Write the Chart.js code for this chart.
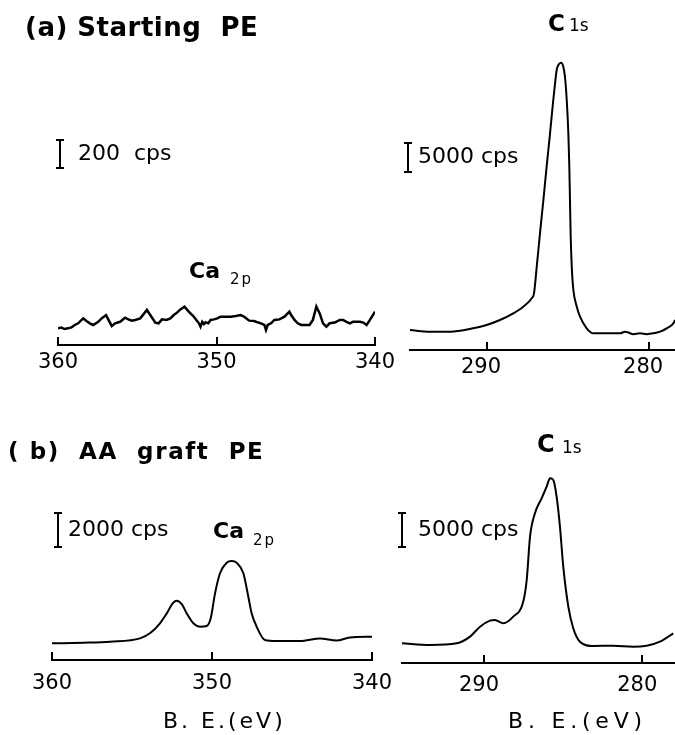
<!DOCTYPE html>
<html>
<head>
<meta charset="utf-8">
<script src="https://cdn.jsdelivr.net/npm/chart.js@4.4.0/dist/chart.umd.min.js"></script>
<style>
  body { margin: 0; background: #fff; }
  #wrap { position: relative; width: 675px; height: 735px; overflow: hidden; font-family: "DejaVu Sans", sans-serif; color: #000; }
  #wrap canvas { position: absolute; left: 0; top: 0; }
  .lbl { position: absolute; white-space: pre; line-height: 1; }
</style>
</head>
<body>
<div id="wrap">
  <canvas id="caA" width="675" height="735"></canvas>
  <canvas id="c1sA" width="675" height="735"></canvas>
  <canvas id="caB" width="675" height="735"></canvas>
  <canvas id="c1sB" width="675" height="735"></canvas>

  <div class="lbl" style="left:25px;top:14px;font-size:26px;font-weight:bold;letter-spacing:0.5px">(a) Starting  PE</div>
  <div class="lbl" style="left:8px;top:440px;font-size:23px;font-weight:bold;letter-spacing:1.6px">( b)  AA  graft  PE</div>

  <div class="lbl" style="left:189px;top:260px;font-size:22px;font-weight:bold">Ca</div>
  <div class="lbl" style="left:230px;top:272px;font-size:15px;letter-spacing:2px">2p</div>
  <div class="lbl" style="left:548px;top:12px;font-size:23px;font-weight:bold">C</div>
  <div class="lbl" style="left:569px;top:17px;font-size:17px">1s</div>

  <div class="lbl" style="left:213px;top:520px;font-size:22px;font-weight:bold">Ca</div>
  <div class="lbl" style="left:253px;top:533px;font-size:15px;letter-spacing:2px">2p</div>
  <div class="lbl" style="left:537px;top:432px;font-size:24px;font-weight:bold">C</div>
  <div class="lbl" style="left:562px;top:439px;font-size:17px">1s</div>

  <div class="lbl" style="left:163px;top:710px;font-size:22px;letter-spacing:3px">B. E.(eV)</div>
  <div class="lbl" style="left:508px;top:710px;font-size:22px;letter-spacing:4.8px">B. E.(eV)</div>
</div>

<script>
// tick labels (eV)
const caTicks = [360, 350, 340];
const c1sTicks = [290, 280];

// (a) starting PE - Ca 2p (noise only)
const caA_be = [360.00,359.79,359.58,359.37,359.15,358.94,358.73,358.41,358.20,357.99,
  357.78,357.46,357.25,356.97,356.83,356.61,356.40,356.08,355.77,355.56,
  355.34,355.13,354.81,354.39,354.18,353.86,353.65,353.44,353.16,352.91,
  352.70,352.49,352.28,352.02,351.75,351.43,351.11,351.01,350.90,350.79,
  350.69,350.52,350.37,350.16,349.95,349.74,349.42,349.10,348.78,348.47,
  348.25,347.94,347.62,347.41,347.20,346.98,346.88,346.77,346.56,346.35,
  346.03,345.71,345.40,345.29,345.08,344.87,344.66,344.34,344.13,343.92,
  343.70,343.49,343.28,343.07,342.86,342.54,342.22,342.01,341.80,341.59,
  341.38,341.16,340.95,340.74,340.53,340.32,340.00];
const caA_cps = [119,124,114,119,126,143,155,190,171,155,
  143,166,190,214,183,136,155,166,195,183,
  174,179,190,250,214,160,155,183,179,190,
  214,231,254,274,238,202,155,131,166,150,
  162,155,179,183,190,202,202,202,207,214,
  202,174,171,162,155,143,107,143,155,179,
  183,202,238,214,179,155,143,143,143,179,
  274,226,155,131,155,160,179,179,166,155,
  166,166,166,160,143,179,238];

// (a) starting PE - C 1s
const c1sA_be = [294.75,293.52,292.28,290.85,290.02,289.20,288.38,287.76,287.24,287.10,
  286.93,286.73,286.52,286.32,286.11,285.91,285.80,285.70,285.60,285.43,
  285.29,285.19,285.08,284.98,284.92,284.88,284.84,284.77,284.67,284.46,
  284.26,283.85,283.44,282.61,281.79,281.48,281.28,280.97,280.56,280.14,
  279.73,279.32,278.91,278.50,278.40];
const c1sA_cps = [3450,3160,3160,3740,4310,5170,6320,7470,8910,9770,
  14370,20120,25860,31600,37360,43100,45980,48270,49130,49530,
  48840,47120,43100,37360,31600,25860,20120,14370,10340,7470,
  5750,3740,2870,2870,2870,3160,3020,2730,2870,2730,
  2870,3160,3740,4600,5170];

// (b) AA graft PE - Ca 2p
const caB_be = [360.00,358.04,356.38,354.50,353.88,353.25,352.83,352.42,352.21,351.89,
  351.58,351.17,350.75,350.33,350.08,349.81,349.50,349.08,348.77,348.46,
  348.04,347.73,347.52,347.21,346.69,345.96,344.50,343.25,342.21,341.38,340.00];
const caB_cps = [980,1020,1080,1270,1570,2160,2740,3370,3490,3290,
  2740,2160,1960,2000,2450,3920,5100,5720,5820,5720,
  5100,3720,2740,1960,1180,1120,1120,1270,1140,1330,1370];

// (b) AA graft PE - C 1s
const c1sB_be = [295.18,293.41,291.72,290.88,290.25,289.62,289.31,288.78,288.15,287.52,
  287.30,287.09,286.78,286.36,286.04,285.83,285.62,285.41,285.20,284.99,
  284.67,284.36,283.94,283.10,281.83,280.57,279.72,278.88,278.04];
const c1sB_cps = [2890,2650,2890,3870,5340,6220,6320,5830,6810,9010,
  12200,18570,22010,24210,25920,27150,26900,24450,20040,14160,
  8280,5100,3130,2500,2540,2400,2540,3130,4360];

Chart.defaults.font.family = '"DejaVu Sans", sans-serif';
Chart.defaults.color = '#000';

// ticks pointing up from the axis + the "I xxx cps" scale bar
const scaleBar = {
  id: 'scaleBar',
  afterDatasetsDraw(chart, args, opts) {
    const ctx = chart.ctx;
    const xs = chart.scales.x, ys = chart.scales.y;
    const b = chart.chartArea.bottom;
    ctx.save();
    ctx.strokeStyle = '#000';
    ctx.lineWidth = 2;
    xs.ticks.forEach(t => {
      const px = Math.round(xs.getPixelForValue(t.value));
      ctx.beginPath();
      ctx.moveTo(px, b);
      ctx.lineTo(px, b - 8);
      ctx.stroke();
    });
    // bar length from the y scale
    const len = ys.getPixelForValue(0) - ys.getPixelForValue(opts.cps);
    const x = opts.x, y1 = opts.bottom, y0 = opts.bottom - len;
    ctx.beginPath();
    ctx.moveTo(x, y0); ctx.lineTo(x, y1);
    ctx.moveTo(x - 4, y0); ctx.lineTo(x + 4, y0);
    ctx.moveTo(x - 4, y1); ctx.lineTo(x + 4, y1);
    ctx.stroke();
    ctx.fillStyle = '#000';
    ctx.font = '22px "DejaVu Sans"';
    ctx.textBaseline = 'middle';
    ctx.fillText(opts.text, opts.textX, (y0 + y1) / 2);
    ctx.restore();
  }
};

function makePanel(id, be, cps, cfg) {
  return new Chart(document.getElementById(id), {
    type: 'line',
    data: {
      datasets: [{
        data: be.map((v, i) => ({ x: v, y: cps[i] })),
        borderColor: '#000',
        borderWidth: cfg.lw,
        pointRadius: 0,
        fill: false,
        cubicInterpolationMode: cfg.smooth ? 'monotone' : 'default',
        tension: 0
      }]
    },
    options: {
      responsive: false,
      animation: false,
      devicePixelRatio: 1,
      layout: { padding: cfg.padding },
      plugins: {
        legend: { display: false },
        tooltip: { enabled: false },
        scaleBar: cfg.bar
      },
      scales: {
        x: {
          type: 'linear',
          reverse: true,
          min: cfg.min,
          max: cfg.max,
          afterBuildTicks: (s) => { s.ticks = cfg.ticks.map(v => ({ value: v })); },
          afterFit: (s) => { s.height = 30; },
          grid: { display: false, drawTicks: false },
          border: { display: true, color: '#000', width: 2 },
          ticks: { font: { size: 21 }, padding: cfg.tickPad, labelOffset: cfg.labelOffset, color: '#000', maxRotation: 0 }
        },
        y: { display: false, min: 0, max: cfg.ymax }
      }
    },
    plugins: [scaleBar]
  });
}

makePanel('caA', caA_be, caA_cps, {
  min: 340, max: 360, ticks: caTicks, ymax: 1750, smooth: false, lw: 2.5, tickPad: 5, labelOffset: 0,
  padding: { left: 58, right: 300, top: 100, bottom: 360 },
  bar: { cps: 200, text: '200  cps', x: 60, bottom: 168, textX: 78 }
});
makePanel('c1sA', c1sA_be, c1sA_cps, {
  min: 278.4, max: 294.75, ticks: c1sTicks, ymax: 53440, smooth: true, lw: 2, tickPad: 5, labelOffset: -6,
  padding: { left: 410, right: 0, top: 40, bottom: 355 },
  bar: { cps: 5000, text: '5000 cps', x: 408, bottom: 172, textX: 418 }
});
makePanel('caB', caB_be, caB_cps, {
  min: 340, max: 360, ticks: caTicks, ymax: 10584, smooth: true, lw: 2, tickPad: 11, labelOffset: 0,
  padding: { left: 52, right: 303, top: 480, bottom: 45 },
  bar: { cps: 2000, text: '2000 cps', x: 58, bottom: 547, textX: 68 }
});
makePanel('c1sB', c1sB_be, c1sB_cps, {
  min: 277.93, max: 295.18, ticks: c1sTicks, ymax: 35720, smooth: true, lw: 2, tickPad: 10, labelOffset: -5,
  padding: { left: 402, right: 0, top: 420, bottom: 42 },
  bar: { cps: 5000, text: '5000 cps', x: 402, bottom: 547, textX: 418 }
});
</script>
</body>
</html>
